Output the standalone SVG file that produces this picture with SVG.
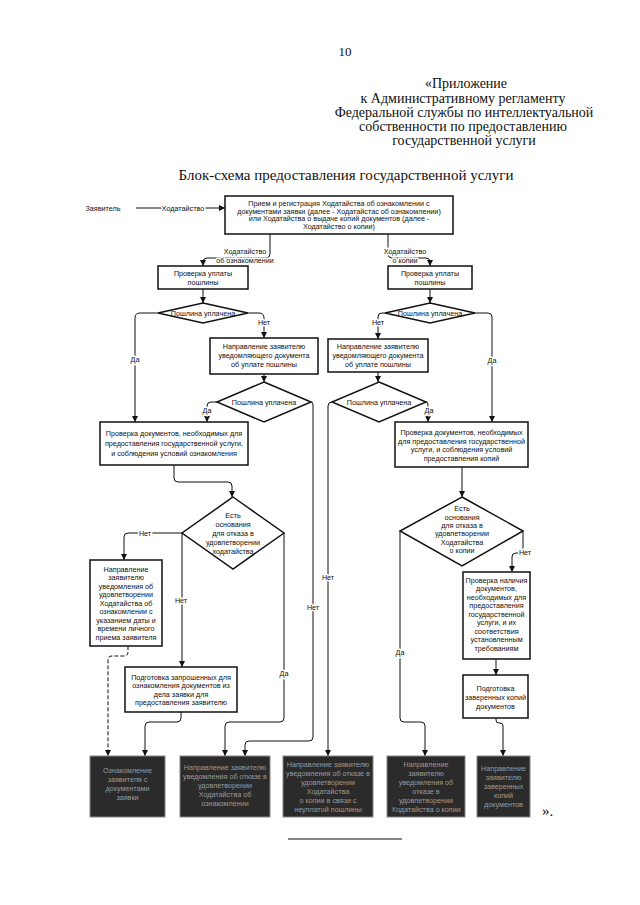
<svg xmlns="http://www.w3.org/2000/svg" width="640" height="905" viewBox="0 0 640 905">
<style>
.pg{font-family:"Liberation Serif","Times New Roman",serif;fill:#111}
.t{font-family:"Liberation Sans",Arial,sans-serif;font-size:7.2px;fill:#111;text-anchor:middle}
.lbl{font-family:"Liberation Sans",Arial,sans-serif;font-size:7.2px;fill:#111;text-anchor:middle;stroke:#fff;stroke-width:3px;paint-order:stroke;stroke-linejoin:round}
.box{fill:#fff;stroke:#111;stroke-width:1.5}
.dk{fill:#2b2b2b;stroke:#888;stroke-width:1}
.dt{font-family:"Liberation Sans",Arial,sans-serif;font-size:7.2px;fill:#9a9a9a;text-anchor:middle}
.c{fill:none;stroke:#111;stroke-width:1}
.d{fill:none;stroke:#111;stroke-width:1;stroke-dasharray:4 2}
</style>
<defs>
<marker id="ar" markerWidth="6" markerHeight="6" refX="6" refY="3" orient="auto" markerUnits="userSpaceOnUse">
<path d="M0,0 L6,3 L0,6 z" fill="#111"/>
</marker>
</defs>
<rect width="640" height="905" fill="#fff"/>

<g id="page-header">
<text class="pg" x="345" y="56" font-size="13" text-anchor="middle">10</text>
<text class="pg" x="466" y="88" font-size="14" text-anchor="middle">«Приложение</text>
<text class="pg" x="463" y="103" font-size="14" text-anchor="middle">к Административному регламенту</text>
<text class="pg" x="464" y="117" font-size="14" text-anchor="middle">Федеральной службы по интеллектуальной</text>
<text class="pg" x="463" y="131" font-size="14" text-anchor="middle">собственности по предоставлению</text>
<text class="pg" x="464" y="145" font-size="14" text-anchor="middle">государственной услуги</text>
<text class="pg" x="346" y="180" font-size="15" text-anchor="middle">Блок-схема предоставления государственной услуги</text>
</g>

<g id="connectors">
<path class="c" d="M136,208 H225" marker-end="url(#ar)"/>
<path class="c" d="M270,234 V254 Q270,258 266,258 H207 Q203,258 203,262 V266" marker-end="url(#ar)"/>
<path class="c" d="M388,234 V254 Q388,258 392,258 H426 Q430,258 430,262 V266" marker-end="url(#ar)"/>
<path class="c" d="M203,289 V303" marker-end="url(#ar)"/>
<path class="c" d="M158,313 H140 Q135,313 135,318 V422" marker-end="url(#ar)"/>
<path class="c" d="M248,313 H259 Q264,313 264,318 V338" marker-end="url(#ar)"/>
<path class="c" d="M264,374 V382" marker-end="url(#ar)"/>
<path class="c" d="M217,402 H211 Q207,402 207,406 V422" marker-end="url(#ar)"/>
<path class="c" d="M311,402 Q313,402 313,405 V737 Q313,741 309,741 H249 Q245,741 245,745 V756" marker-end="url(#ar)"/>
<path class="c" d="M174,465 V478 Q174,482 178,482 H228 Q232,482 232,486 V497" marker-end="url(#ar)"/>
<path class="c" d="M182,533 H128 Q124,533 124,537 V560" marker-end="url(#ar)"/>
<path class="c" d="M182,533 V667" marker-end="url(#ar)"/>
<path class="c" d="M284,533 V718 Q284,722 280,722 H229 Q225,722 225,726 V756" marker-end="url(#ar)"/>
<path class="d" d="M128,646 V652 Q128,656 124,656 H112 Q108,656 108,660 V756" marker-end="url(#ar)"/>
<path class="c" d="M181,712 V718 Q181,722 177,722 H149 Q145,722 145,726 V756" marker-end="url(#ar)"/>
<path class="c" d="M430,289 V303" marker-end="url(#ar)"/>
<path class="c" d="M385,313 H382 Q378,313 378,317 V339" marker-end="url(#ar)"/>
<path class="c" d="M475,313 H488 Q492,313 492,317 V422" marker-end="url(#ar)"/>
<path class="c" d="M378,372 V382" marker-end="url(#ar)"/>
<path class="c" d="M332,402 Q328,402 328,406 V756" marker-end="url(#ar)"/>
<path class="c" d="M426,402 Q428,402 428,405 V422" marker-end="url(#ar)"/>
<path class="c" d="M462,467 V497" marker-end="url(#ar)"/>
<path class="c" d="M523,531 V548 Q523,553 518,553 H516 Q512,553 512,557 V572" marker-end="url(#ar)"/>
<path class="c" d="M400,531 V718 Q400,722 404,722 H421 Q425,722 425,726 V756" marker-end="url(#ar)"/>
<path class="c" d="M496,659 V675" marker-end="url(#ar)"/>
<path class="c" d="M496,718 V720 Q496,723 499,723 H500 Q503,723 503,726 V756" marker-end="url(#ar)"/>
</g>

<g id="connector-labels">
<text class="t" x="103" y="210.5" text-anchor="start">Заявитель</text>
<text class="lbl" x="183" y="210.5">Ходатайство</text>
<text class="lbl" x="245" y="253.5">Ходатайство</text>
<text class="lbl" x="245" y="262.5">об ознакомлении</text>
<text class="lbl" x="405" y="253.5">Ходатайство</text>
<text class="lbl" x="405" y="262.5">о копии</text>
<text class="lbl" x="135" y="362">Да</text>
<text class="lbl" x="264" y="325">Нет</text>
<text class="lbl" x="207" y="413">Да</text>
<text class="lbl" x="313" y="610">Нет</text>
<text class="lbl" x="145" y="535.5">Нет</text>
<text class="lbl" x="181" y="603">Нет</text>
<text class="lbl" x="284" y="676">Да</text>
<text class="lbl" x="378" y="325">Нет</text>
<text class="lbl" x="492" y="363">Да</text>
<text class="lbl" x="328" y="580">Нет</text>
<text class="lbl" x="429" y="413">Да</text>
<text class="lbl" x="525" y="555">Нет</text>
<text class="lbl" x="400" y="655">Да</text>
</g>

<g id="node-reception">
<rect class="box" x="225" y="196" width="228" height="38"/>
<text class="t" x="339" y="206">Прием и регистрация Ходатайства об ознакомлении с</text>
<text class="t" x="339" y="213.5">документами заявки (далее - Ходатайстас об ознакомлении)</text>
<text class="t" x="339" y="221">или  Ходатайства о выдаче копий документов (далее -</text>
<text class="t" x="339" y="228.5">Ходатайство о копии)</text>
</g>

<g id="node-fee-check-left">
<rect class="box" x="158" y="266" width="90" height="23"/>
<text class="t" x="203" y="276">Проверка уплаты</text>
<text class="t" x="203" y="285">пошлины</text>
</g>
<g id="node-fee-paid-left-1">
<polygon class="box" points="203,303 248,313 203,323 158,313"/>
<text class="t" x="203" y="315.5">Пошлина уплачена</text>
</g>
<g id="node-notify-fee-left">
<rect class="box" x="210" y="338" width="108" height="36"/>
<text class="t" x="264" y="349">Направление заявителю</text>
<text class="t" x="264" y="358">уведомляющего документа</text>
<text class="t" x="264" y="367">об уплате пошлины</text>
</g>
<g id="node-fee-paid-left-2">
<polygon class="box" points="264,382 311,402 264,422 217,402"/>
<text class="t" x="264" y="404.5">Пошлина уплачена</text>
</g>
<g id="node-doc-check-left">
<rect class="box" x="100" y="422" width="148" height="43"/>
<text class="t" x="174" y="435.5">Проверка документов, необходимых для</text>
<text class="t" x="174" y="445.5">предоставления государственной услуги,</text>
<text class="t" x="174" y="455.5">и соблюдения условий ознакомления</text>
</g>
<g id="node-refusal-left">
<polygon class="box" points="233,497 284,533 233,569 182,533"/>
<text class="t" x="233" y="517.5">Есть</text>
<text class="t" x="233" y="527">основания</text>
<text class="t" x="233" y="535.5">для отказа в</text>
<text class="t" x="233" y="544.5">удовлетворении</text>
<text class="t" x="233" y="553.5">ходатайства</text>
</g>
<g id="node-notify-visit">
<rect class="box" x="90" y="560" width="72" height="86"/>
<text class="t" x="126" y="571.5">Направление</text>
<text class="t" x="126" y="580">заявителю</text>
<text class="t" x="126" y="588.5">уведомления об</text>
<text class="t" x="126" y="597">удовлетворении</text>
<text class="t" x="126" y="605.5">Ходатайства об</text>
<text class="t" x="126" y="614">ознакомлении с</text>
<text class="t" x="126" y="622.5">указанием даты и</text>
<text class="t" x="126" y="631">времени личного</text>
<text class="t" x="126" y="639.5">приема заявителя</text>
</g>
<g id="node-prepare-docs">
<rect class="box" x="125" y="667" width="112" height="45"/>
<text class="t" x="181" y="679.5">Подготовка запрошенных для</text>
<text class="t" x="181" y="688">ознакомления документов из</text>
<text class="t" x="181" y="696.5">дела заявки для</text>
<text class="t" x="181" y="705">предоставления заявителю</text>
</g>

<g id="node-fee-check-right">
<rect class="box" x="388" y="266" width="84" height="23"/>
<text class="t" x="430" y="276">Проверка уплаты</text>
<text class="t" x="430" y="285">пошлины</text>
</g>
<g id="node-fee-paid-right-1">
<polygon class="box" points="430,303 475,313 430,323 385,313"/>
<text class="t" x="430" y="315.5">Пошлина уплачена</text>
</g>
<g id="node-notify-fee-right">
<rect class="box" x="328" y="339" width="100" height="33"/>
<text class="t" x="378" y="349">Направление заявителю</text>
<text class="t" x="378" y="358">уведомляющего документа</text>
<text class="t" x="378" y="367">об уплате пошлины</text>
</g>
<g id="node-fee-paid-right-2">
<polygon class="box" points="379,382 426,402 379,422 332,402"/>
<text class="t" x="379" y="404.5">Пошлина уплачена</text>
</g>
<g id="node-doc-check-right">
<rect class="box" x="395" y="422" width="133" height="45"/>
<text class="t" x="461.5" y="434.5">Проверка документов, необходимых</text>
<text class="t" x="461.5" y="443.5">для предоставления государственной</text>
<text class="t" x="461.5" y="452">услуги, и соблюдения условий</text>
<text class="t" x="461.5" y="461">предоставления копий</text>
</g>
<g id="node-refusal-right">
<polygon class="box" points="462,497 523,531 462,566 400,531"/>
<text class="t" x="462" y="510.5">Есть</text>
<text class="t" x="462" y="519.5">основания</text>
<text class="t" x="462" y="527.5">для отказа в</text>
<text class="t" x="462" y="535.5">удовлетворении</text>
<text class="t" x="462" y="544.5">Ходатайства</text>
<text class="t" x="462" y="552.5">о копии</text>
</g>
<g id="node-check-presence">
<rect class="box" x="463" y="572" width="67" height="87"/>
<text class="t" x="496.5" y="582.5">Проверка наличия</text>
<text class="t" x="496.5" y="591">документов,</text>
<text class="t" x="496.5" y="599.5">необходимых для</text>
<text class="t" x="496.5" y="608">предоставления</text>
<text class="t" x="496.5" y="616.5">государственной</text>
<text class="t" x="496.5" y="625">услуги,  и их</text>
<text class="t" x="496.5" y="633.5">соответствия</text>
<text class="t" x="496.5" y="642">установленным</text>
<text class="t" x="496.5" y="650.5">требованиям</text>
</g>
<g id="node-prepare-copies">
<rect class="box" x="463" y="675" width="65" height="43"/>
<text class="t" x="495.5" y="690.5">Подготовка</text>
<text class="t" x="495.5" y="699.5">заверенных копий</text>
<text class="t" x="495.5" y="708.5">документов</text>
</g>

<g id="node-result-1">
<rect class="dk" x="90" y="756" width="75" height="61"/>
<text class="dt" x="127.5" y="773">Ознакомление</text>
<text class="dt" x="127.5" y="782">заявителя с</text>
<text class="dt" x="127.5" y="791">документами</text>
<text class="dt" x="127.5" y="800">заявки</text>
</g>
<g id="node-result-2">
<rect class="dk" x="180" y="756" width="90" height="61"/>
<text class="dt" x="225" y="770">Направление заявителю</text>
<text class="dt" x="225" y="779">уведомления об отказе в</text>
<text class="dt" x="225" y="788">удовлетворении</text>
<text class="dt" x="225" y="797">Ходатайства об</text>
<text class="dt" x="225" y="806">ознакомлении</text>
</g>
<g id="node-result-3">
<rect class="dk" x="283" y="756" width="90" height="61"/>
<text class="dt" x="328" y="767">Направление заявителю</text>
<text class="dt" x="328" y="776">уведомления об отказе в</text>
<text class="dt" x="328" y="785">удовлетворении</text>
<text class="dt" x="328" y="794">Ходатайства</text>
<text class="dt" x="328" y="803">о копии в связи с</text>
<text class="dt" x="328" y="812">неуплатой пошлины</text>
</g>
<g id="node-result-4">
<rect class="dk" x="387" y="756" width="78" height="61"/>
<text class="dt" x="426" y="767">Направление</text>
<text class="dt" x="426" y="776">заявителю</text>
<text class="dt" x="426" y="785">уведомления об</text>
<text class="dt" x="426" y="794">отказе в</text>
<text class="dt" x="426" y="803">удовлетворении</text>
<text class="dt" x="426" y="812">Ходатайства о копии</text>
</g>
<g id="node-result-5">
<rect class="dk" x="477" y="756" width="53" height="61"/>
<text class="dt" x="503.5" y="771">Направление</text>
<text class="dt" x="503.5" y="780">заявителю</text>
<text class="dt" x="503.5" y="789">заверенных</text>
<text class="dt" x="503.5" y="798">копий</text>
<text class="dt" x="503.5" y="807">документов</text>
</g>

<g id="page-footer">
<text class="pg" x="542" y="816" font-size="15">».</text>
<line x1="288" y1="839" x2="402" y2="839" stroke="#111" stroke-width="1"/>
</g>
</svg>
